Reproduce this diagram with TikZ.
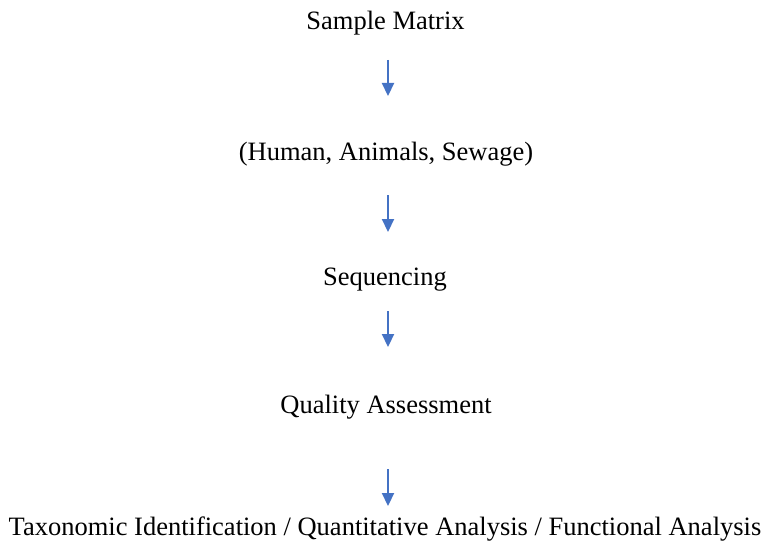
\documentclass[tikz,border=0pt]{standalone}
\usepackage{fontspec}
\setmainfont{Liberation Serif}
\usetikzlibrary{arrows.meta}
\definecolor{arrowblue}{HTML}{4472C4}
\begin{document}
\begin{tikzpicture}[x=1pt,y=-1pt,
  label/.style={font=\fontsize{26.5}{30}\selectfont, inner sep=0pt, anchor=base},
  flow/.style={draw=arrowblue, line width=2.2pt, -{Triangle[length=13pt,width=12pt]}}]
\useasboundingbox (0,0) rectangle (766,543);
\node[label] (t1) at (385.5,30) {Sample Matrix};
\node[label] (t2) at (386,160) {(Human, Animals, Sewage)};
\node[label] (t3) at (385,285) {Sequencing};
\node[label] (t4) at (386,413) {Quality Assessment};
\node[label] (t5) at (385,535) {Taxonomic Identification / Quantitative Analysis / Functional Analysis};
\coordinate (a1s) at (388,60);  \coordinate (a1e) at (388,96);
\coordinate (a2s) at (388,195); \coordinate (a2e) at (388,232);
\coordinate (a3s) at (388,311); \coordinate (a3e) at (388,347);
\coordinate (a4s) at (388,469); \coordinate (a4e) at (388,506);
\draw[flow] (a1s) -- (a1e);
\draw[flow] (a2s) -- (a2e);
\draw[flow] (a3s) -- (a3e);
\draw[flow] (a4s) -- (a4e);
\end{tikzpicture}
\end{document}
